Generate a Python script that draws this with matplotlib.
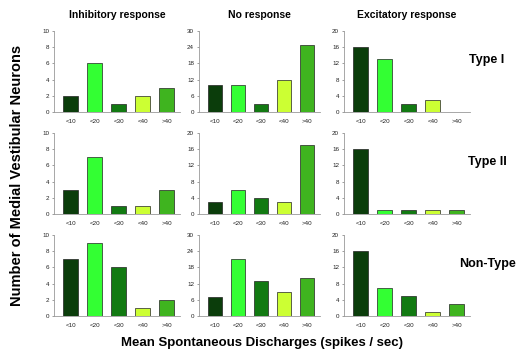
import matplotlib.pyplot as plt

plt.rcParams['font.family'] = ['Liberation Sans', 'DejaVu Sans']

# Spike-rate bins and their bar colours
bins = ['<10', '<20', '<30', '<40', '>40']
bin_colors = ['#0b3d0b', '#33ff33', '#127a12', '#ccff33', '#3fb41f']

responses = ['Inhibitory response', 'No response', 'Excitatory response']
neuron_types = ['Type I', 'Type II', 'Non-Type']

# Neuron counts per bin: rows = neuron type, columns = response
type1_inhib = [2, 6, 1, 2, 3]
type1_none = [10, 10, 3, 12, 25]
type1_excit = [16, 13, 2, 3, 0]

type2_inhib = [3, 7, 1, 1, 3]
type2_none = [3, 6, 4, 3, 17]
type2_excit = [16, 1, 1, 1, 1]

nontype_inhib = [7, 9, 6, 1, 2]
nontype_none = [7, 21, 13, 9, 14]
nontype_excit = [16, 7, 5, 1, 3]

counts = [
    [type1_inhib, type1_none, type1_excit],
    [type2_inhib, type2_none, type2_excit],
    [nontype_inhib, nontype_none, nontype_excit],
]

# y-axis limits and tick steps per panel
y_limits = [
    [(10, 2), (30, 6), (20, 4)],
    [(10, 2), (20, 4), (20, 4)],
    [(10, 2), (30, 6), (20, 4)],
]

fig = plt.figure(figsize=(5.22, 3.58), dpi=100)
W, H = 522, 358
col_x = [(54, 180), (199, 320), (344, 470)]
row_y = [(31, 112), (133, 214), (235, 316)]

for r in range(3):
    for c in range(3):
        x0, x1 = col_x[c]
        y0, y1 = row_y[r]
        ax = fig.add_axes([x0 / W, 1 - y1 / H, (x1 - x0) / W, (y1 - y0) / H])
        ax.bar(range(len(bins)), counts[r][c], width=0.62, color=bin_colors,
               edgecolor='#222222', linewidth=0.5)
        top, step = y_limits[r][c]
        ax.set_ylim(0, top)
        ax.set_yticks(range(0, top + 1, step))
        ax.set_xlim(-0.7, len(bins) - 0.45)
        ax.set_xticks(range(len(bins)))
        ax.set_xticklabels(bins)
        ax.tick_params(labelsize=4.5, length=1.5, width=0.4, pad=2,
                       colors='#555555', labelcolor='#222222')
        ax.tick_params(axis='x', length=0, pad=5)
        for side in ['top', 'right']:
            ax.spines[side].set_visible(False)
        for side in ['left', 'bottom']:
            ax.spines[side].set_color('#999999')
            ax.spines[side].set_linewidth(0.6)
        if r == 0:
            ax.set_title(responses[c], fontsize=7.5, fontweight='bold', pad=9)

for r, name in enumerate(neuron_types):
    yc = (row_y[r][0] + row_y[r][1]) / 2 - 12
    fig.text(487 / W, 1 - yc / H, name, fontsize=9, fontweight='bold',
             ha='center', va='center')

fig.text(17 / W, 1 - 175 / H, 'Number of Medial Vestibular Neurons',
         fontsize=10.5, fontweight='bold', rotation=90, ha='center', va='center')
fig.text(262 / W, 1 - 343 / H, 'Mean Spontaneous Discharges (spikes / sec)',
         fontsize=9.5, fontweight='bold', ha='center', va='center')

fig.savefig('out.png', dpi=100)
